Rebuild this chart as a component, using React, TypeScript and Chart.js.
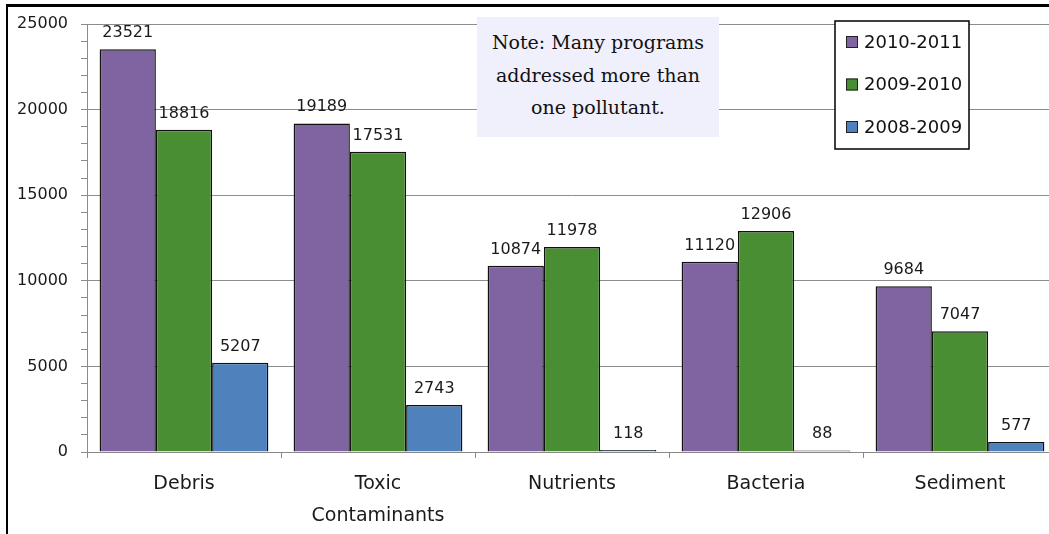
import React, { useEffect, useRef } from "react";
import { Chart, registerables } from "chart.js";

Chart.register(...registerables);

const categories: (string | string[])[] = ["Debris", ["Toxic", "Contaminants"], "Nutrients", "Bacteria", "Sediment"];
const seriesLabels = ["2010-2011", "2009-2010", "2008-2009"];
const values2010_2011 = [23521, 19189, 10874, 11120, 9684];
const values2009_2010 = [18816, 17531, 11978, 12906, 7047];
const values2008_2009 = [5207, 2743, 118, 88, 577];
const seriesColors = ["#8063A1", "#4A8E33", "#4F81BD"];
const yTickValues = [0, 5000, 10000, 15000, 20000, 25000];
const noteLines = ["Note: Many programs", "addressed more than", "one pollutant."];

const dataLabelPlugin = {
  id: "dataLabels",
  afterDatasetsDraw(chart: any) {
    const ctx = chart.ctx;
    ctx.save();
    ctx.font = "16px 'DejaVu Sans'";
    ctx.fillStyle = "#1a1a1a";
    ctx.textAlign = "center";
    ctx.textBaseline = "alphabetic";
    chart.data.datasets.forEach((ds: any, di: number) => {
      const meta = chart.getDatasetMeta(di);
      meta.data.forEach((bar: any, i: number) => {
        ctx.fillText(String(ds.data[i]), bar.x, bar.y - 12);
      });
    });
    ctx.restore();
  },
};

const legendPlugin = {
  id: "boxLegend",
  afterDraw(chart: any) {
    const ctx = chart.ctx;
    const x = 835, y = 21, w = 134, h = 128;
    ctx.save();
    ctx.fillStyle = "#fff";
    ctx.fillRect(x, y, w, h);
    ctx.strokeStyle = "#000";
    ctx.lineWidth = 1.5;
    ctx.strokeRect(x, y, w, h);
    ctx.font = "18px 'DejaVu Sans'";
    ctx.textBaseline = "middle";
    ctx.textAlign = "left";
    chart.data.datasets.forEach((ds: any, i: number) => {
      const cy = 42 + i * 42.5;
      ctx.fillStyle = ds.backgroundColor;
      ctx.fillRect(846, cy - 6, 12, 12);
      ctx.strokeStyle = "#222";
      ctx.lineWidth = 1;
      ctx.strokeRect(846.5, cy - 5.5, 11, 11);
      ctx.fillStyle = "#111";
      ctx.fillText(ds.label, 864, cy + 1);
    });
    ctx.restore();
  },
};

export default function App() {
  const ref = useRef<HTMLCanvasElement>(null);
  useEffect(() => {
    document.body.style.margin = "0";
    document.body.style.overflow = "hidden";
    const chart = new Chart(ref.current!, {
      type: "bar",
      data: {
        labels: categories,
        datasets: [values2010_2011, values2009_2010, values2008_2009].map((d, i) => ({
          label: seriesLabels[i],
          data: d,
          backgroundColor: seriesColors[i],
          borderColor: "#111",
          borderWidth: 1.5,
          categoryPercentage: 0.87,
          barPercentage: 1,
        })),
      },
      options: {
        animation: false,
        responsive: false,
        maintainAspectRatio: false,
        layout: { padding: { top: 24, right: 0, left: 0, bottom: 0 } },
        plugins: { legend: { display: false }, tooltip: { enabled: false } },
        scales: {
          x: {
            grid: { drawOnChartArea: false, drawTicks: true, tickLength: 6, tickColor: "#888", offset: true },
            border: { color: "#888", width: 1 },
            ticks: {
              font: { family: "'DejaVu Sans'", size: 19, lineHeight: 1.68 },
              color: "#1a1a1a",
              padding: 10,
              maxRotation: 0,
              autoSkip: false,
            },
            afterFit(scale: any) {
              scale.height = 82;
            },
          },
          y: {
            min: 0,
            max: 25000,
            ticks: {
              stepSize: 1000,
              autoSkip: false,
              font: { family: "'DejaVu Sans'", size: 16 },
              color: "#1a1a1a",
              padding: 13,
              callback: (v: any) => (yTickValues.includes(Number(v)) ? String(v) : ""),
            },
            grid: {
              color: (c: any) => (c.tick && c.tick.value % 5000 === 0 ? "#8c8c8c" : "rgba(0,0,0,0)"),
              tickColor: "#8c8c8c",
              tickLength: 6,
              lineWidth: 1,
            },
            border: { color: "#8c8c8c", width: 1 },
            afterFit(scale: any) {
              scale.width = 87;
            },
          },
        },
      },
      plugins: [dataLabelPlugin, legendPlugin],
    });
    return () => chart.destroy();
  }, []);

  return (
    <div style={{ position: "absolute", left: 0, top: 0, width: 1049, height: 534, overflow: "hidden", background: "#fff" }}>
      <div
        style={{
          position: "absolute",
          left: 6,
          top: 4,
          width: 2000,
          height: 1000,
          borderTop: "3px solid #000",
          borderLeft: "2px solid #000",
        }}
      />
      <canvas ref={ref} width={1057} height={534} style={{ position: "absolute", left: 0, top: 0, width: 1057, height: 534 }} />
      <div
        style={{
          position: "absolute",
          left: 477,
          top: 17,
          width: 242,
          height: 120,
          background: "#F0F0FC",
          fontFamily: "'DejaVu Serif', serif",
          fontSize: 19,
          color: "#111",
          textAlign: "center",
          lineHeight: "32.5px",
          paddingTop: 9,
          boxSizing: "border-box",
        }}
      >
        {noteLines.map((l, i) => (
          <div key={i}>{l}</div>
        ))}
      </div>
    </div>
  );
}
